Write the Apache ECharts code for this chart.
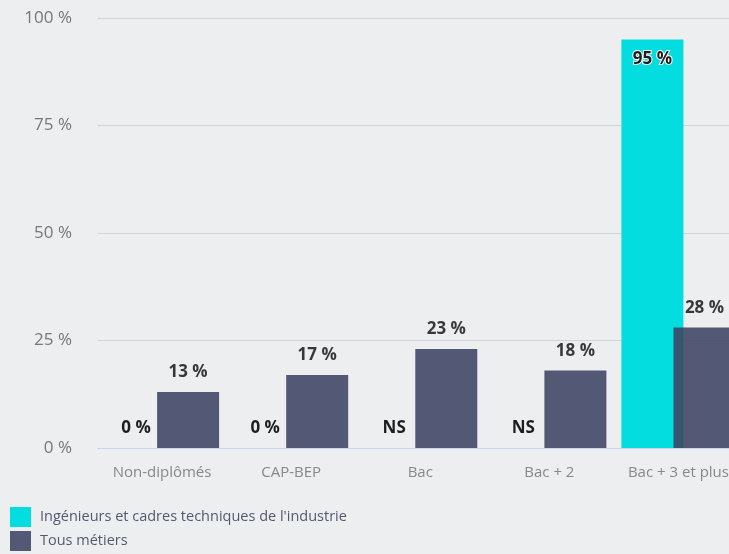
<!DOCTYPE html>
<html><head><meta charset="utf-8">
<script src="https://cdn.jsdelivr.net/npm/echarts@6/dist/echarts.min.js"></script>
<style>html,body{margin:0;padding:0;background:#edeef0;overflow:hidden;}#c{width:743px;height:554px;}</style>
</head><body><div id="c"></div>
<script>
var categories = ['Non-diplômés', 'CAP-BEP', 'Bac', 'Bac + 2', 'Bac + 3 et plus'];
var seriesNames = ["Ingénieurs et cadres techniques de l'industrie", 'Tous métiers'];
var ingenieurs = [0, 0, 'NS', 'NS', 95];
var tousMetiers = [13, 17, 23, 18, 28];
var yTicks = [0, 25, 50, 75, 100];

function toData(arr, insideTopIdx) {
  return arr.map(function (v, i) {
    var isNS = (v === 'NS');
    var item = { value: isNS ? 0 : v, label: { formatter: isNS ? 'NS' : (v + ' %') } };
    if (i === insideTopIdx) {
      item.label.position = 'insideTop';
      item.label.distance = 11;
      item.label.textBorderColor = '#ffffff';
      item.label.textBorderWidth = 2;
    }
    return item;
  });
}

var chart = echarts.init(document.getElementById('c'));
var labelStyle = { show: true, position: 'top', distance: 11, color: '#1e1e1e', fontWeight: 'bold', fontSize: 17, fontFamily: 'Open Sans' };
chart.setOption({
  backgroundColor: '#edeef0',
  animation: false,
  grid: { left: 97.5, right: 0, top: 18, bottom: 106, containLabel: false },
  legend: {
    orient: 'vertical', left: 10, top: 507, height: 60, itemWidth: 21, itemHeight: 20, itemGap: 4,
    padding: 0,
    icon: 'rect', textStyle: { color: '#545970', fontSize: 14.5, fontFamily: 'Open Sans', padding: [3, 0, 0, 4] },
    data: seriesNames
  },
  xAxis: {
    type: 'category', data: categories,
    axisLine: { lineStyle: { color: '#ccd6eb' } }, axisTick: { show: false },
    axisLabel: { color: '#888888', fontSize: 15, fontFamily: 'Open Sans', margin: 17, interval: 0 }
  },
  yAxis: {
    type: 'value', min: 0, max: 100, interval: 25,
    axisLabel: { formatter: '{value} %', color: '#777777', fontSize: 17, fontFamily: 'Open Sans', margin: 25.5 },
    splitLine: { lineStyle: { color: '#cfd5dd' } },
    axisLine: { show: false }, axisTick: { show: false }
  },
  series: [
    { name: seriesNames[0], type: 'bar', barWidth: 62, barGap: '-16%',
      itemStyle: { color: '#04dde0' }, label: labelStyle, data: toData(ingenieurs, 4) },
    { name: seriesNames[1], type: 'bar', barWidth: 62,
      itemStyle: { color: '#3d4462', opacity: 0.88 }, label: labelStyle, data: toData(tousMetiers, -1) }
  ]
});
</script></body></html>
